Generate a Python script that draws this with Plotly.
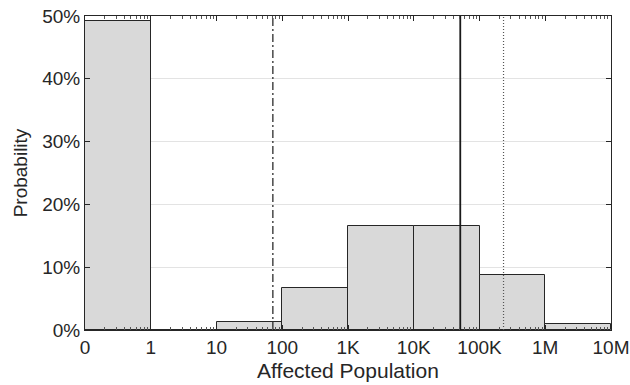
import numpy as np
import plotly.graph_objects as go

# Bin edges (affected population) and bin probabilities
bin_edges = [0, 1, 10, 100, 1e3, 1e4, 1e5, 1e6, 1e7]
probabilities = [0.492, 0.0, 0.012, 0.067, 0.166, 0.166, 0.088, 0.0095]
tick_values = [0, 1, 10, 100, 1e3, 1e4, 1e5, 1e6, 1e7]
tick_labels = ["0", "1", "10", "100", "1K", "10K", "100K", "1M", "10M"]

# Reference statistics (vertical lines)
line_values = [72, 51000, 232000]
line_dashes = ["dashdot", "solid", "dot"]


def pos(v):
    """Map population value to axis position: 0 -> 0, 10^k -> k+1."""
    return 0.0 if v <= 0 else float(np.log10(v) + 1)


centers = [(pos(a) + pos(b)) / 2 for a, b in zip(bin_edges[:-1], bin_edges[1:])]
widths = [pos(b) - pos(a) for a, b in zip(bin_edges[:-1], bin_edges[1:])]

fig = go.Figure()
fig.add_trace(go.Bar(
    x=centers, y=probabilities, width=widths,
    marker=dict(color="#d9d9d9", line=dict(color="#262626", width=1)),
    showlegend=False, hoverinfo="skip",
))

line_styles = {
    "dashdot": dict(color="#1a1a1a", width=1.2, dash="8px,3px,2px,3px"),
    "solid": dict(color="#1a1a1a", width=1.8, dash="solid"),
    "dot": dict(color="#555555", width=1.2, dash="1px,2px"),
}
for v, d in zip(line_values, line_dashes):
    p = pos(v)
    fig.add_trace(go.Scatter(
        x=[p, p], y=[0, 0.5], mode="lines",
        line=line_styles[d],
        showlegend=False, hoverinfo="skip",
    ))

# minor ticks: log spacing within every segment
minor_vals = []
for seg in range(len(tick_values) - 1):
    for k in range(2, 10):
        minor_vals.append(seg + float(np.log10(k)))

font = "Liberation Sans, Arial, Helvetica, sans-serif"
fig.update_layout(
    width=630, height=385,
    margin=dict(l=85, r=19, t=16, b=55),
    paper_bgcolor="white", plot_bgcolor="white",
    bargap=0,
    font=dict(family=font, size=19, color="#262626"),
    xaxis=dict(
        range=[0, 8],
        automargin=False,
        tickmode="array",
        tickvals=[pos(v) for v in tick_values],
        ticktext=tick_labels,
        ticks="inside", ticklen=5, tickcolor="#262626",
        minor=dict(tickvals=minor_vals, ticks="inside", ticklen=3, tickcolor="#555"),
        showline=True, linecolor="#262626", linewidth=1, mirror="allticks",
        showgrid=False, zeroline=False,
        tickfont=dict(size=19),
        title=dict(text="Affected Population", font=dict(size=21), standoff=6),
    ),
    yaxis=dict(
        range=[0, 0.5],
        automargin=False,
        tickvals=[0, 0.1, 0.2, 0.3, 0.4, 0.5],
        tickformat=".0%",
        ticks="inside", ticklen=5, tickcolor="#262626",
        showline=True, linecolor="#262626", linewidth=1, mirror="allticks",
        showgrid=True, gridcolor="#e3e3e3", gridwidth=1,
        zeroline=False,
        tickfont=dict(size=19),
        title=dict(text="Probability", font=dict(size=19), standoff=9),
    ),
)

fig.write_html("out.html")
